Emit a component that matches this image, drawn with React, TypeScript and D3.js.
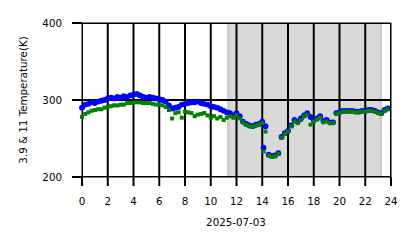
import React from "react";
import * as d3 from "d3";

const hours = [
  0, 0.25, 0.5, 0.75, 1, 1.25, 1.5, 1.75, 2, 2.25, 2.5, 2.75, 3, 3.25, 3.5, 3.75,
  4, 4.25, 4.5, 4.75, 5, 5.25, 5.5, 5.75, 6, 6.25, 6.5, 6.75, 7, 7.25, 7.5, 7.75,
  8, 8.25, 8.5, 8.75, 9, 9.25, 9.5, 9.75, 10, 10.25, 10.5, 10.75, 11, 11.25, 11.5, 11.75,
  12, 12.25, 12.5, 12.75, 13, 13.25, 13.5, 13.75, 14, 14.1, 14.25, 14.5, 14.75, 15, 15.25,
  15.5, 15.75, 16, 16.25, 16.5, 16.75, 17, 17.25, 17.5, 17.75, 18, 18.25, 18.5, 18.75,
  19, 19.25, 19.5, 19.75, 20, 20.25, 20.5, 20.75, 21, 21.25, 21.5, 21.75, 22, 22.25,
  22.5, 22.75, 23, 23.25, 23.5, 23.75,
];

const temp39 = [
  290, 294, 295, 297, 296, 298, 299, 300, 302, 303, 302, 304, 303, 305, 304, 306,
  307, 308, 306, 304, 303, 304, 303, 302, 301, 300, 298, 293, 289, 290, 291, 294,
  295, 296, 297, 297, 298, 296, 295, 294, 292, 291, 290, 288, 286, 284, 283, 280,
  283, 279, 272, 269, 267, 266, 268, 269, 272, 238, 266, 229, 227, 228, 231,
  252, 257, 260, 267, 274, 272, 276, 280, 283, 278, 274, 276, 279, 273,
  274, 271, 271, 283, 284, 286, 286, 286, 286, 285, 285, 286, 286, 287,
  287, 286, 284, 283, 287, 289,
];

const temp11 = [
  278, 282, 284, 286, 287, 288, 288, 290, 291, 292, 293, 293, 294, 294, 296, 296,
  297, 297, 297, 296, 296, 296, 295, 294, 294, 293, 291, 287, 276, 283, 284, 277,
  285, 284, 283, 279, 281, 282, 283, 280, 277, 279, 276, 278, 274, 277, 279, 277,
  280, 276, 271, 268, 266, 265, 267, 268, 270, 233, 259, 228, 226, 227, 230,
  251, 256, 259, 266, 272, 270, 274, 279, 281, 268, 272, 275, 277, 271,
  272, 270, 270, 282, 283, 285, 285, 285, 285, 284, 284, 285, 285, 286,
  286, 285, 283, 282, 286, 288,
];

const xTicks = [0, 2, 4, 6, 8, 10, 12, 14, 16, 18, 20, 22, 24];
const yTicks = [200, 300, 400];
const shadeStart = 11.27;
const shadeEnd = 23.3;
const dateLabel = "2025-07-03";
const yLabel = "3.9 & 11 Temperature(K)";

export default function App() {
  const W = 418;
  const H = 248;
  const left = 82;
  const right = 391;
  const top = 23;
  const bottom = 177;
  const x = d3.scaleLinear().domain([0, 24]).range([left, right]);
  const y = d3.scaleLinear().domain([200, 400]).range([bottom, top]);
  const font = "DejaVu Sans";
  const fs = 10.3;

  return (
    <svg
      width={W}
      height={H}
      style={{ position: "absolute", left: 0, top: 0, background: "#fff" }}
    >
      <defs>
        <clipPath id="plotclip">
          <rect x={left} y={top} width={right - left} height={bottom - top} />
        </clipPath>
      </defs>
      <rect x={x(shadeStart)} y={top} width={x(shadeEnd) - x(shadeStart)} height={bottom - top} fill="#d9d9d9" />
      <rect x={x(shadeStart)} y={top} width={3} height={bottom - top} fill="#cdcdcd" />
      <rect x={x(shadeEnd) - 3} y={top} width={3} height={bottom - top} fill="#cdcdcd" />
      <g clipPath="url(#plotclip)">
        {xTicks.map((t) => (
          <line key={"gx" + t} x1={x(t)} x2={x(t)} y1={top} y2={bottom} stroke="#000" strokeWidth={2} />
        ))}
        {yTicks.map((t) => (
          <line key={"gy" + t} x1={left} x2={right} y1={y(t)} y2={y(t)} stroke="#000" strokeWidth={2} />
        ))}
      </g>
      <rect x={left} y={top} width={right - left} height={bottom - top} fill="none" stroke="#000" strokeWidth={1} />
      <g>
        {hours.map((h, i) => (
          <circle key={"b" + i} cx={x(h)} cy={y(temp39[i])} r={2.9} fill="#0000ff" />
        ))}
        {hours.map((h, i) => (
          <rect key={"g" + i} x={x(h) - 2} y={y(temp11[i]) - 2} width={4} height={4} fill="#008000" />
        ))}
      </g>
      {xTicks.map((t) => (
        <g key={"tx" + t}>
          <line x1={x(t)} x2={x(t)} y1={bottom} y2={bottom + 9} stroke="#000" strokeWidth={2} />
          <text x={x(t)} y={205} textAnchor="middle" fontFamily={font} fontSize={fs} fill="#000">
            {t}
          </text>
        </g>
      ))}
      {yTicks.map((t) => (
        <g key={"ty" + t}>
          <line x1={left - 10} x2={left} y1={y(t)} y2={y(t)} stroke="#000" strokeWidth={2} />
          <text x={62} y={y(t) + 3.9} textAnchor="end" fontFamily={font} fontSize={fs} fill="#000">
            {t}
          </text>
        </g>
      ))}
      <text x={236} y={226} textAnchor="middle" fontFamily={font} fontSize={fs} fill="#000">
        {dateLabel}
      </text>
      <text
        transform={`translate(27, ${(top + bottom) / 2}) rotate(-90)`}
        textAnchor="middle"
        fontFamily={font}
        fontSize={fs}
        fill="#000"
      >
        {yLabel}
      </text>
    </svg>
  );
}
